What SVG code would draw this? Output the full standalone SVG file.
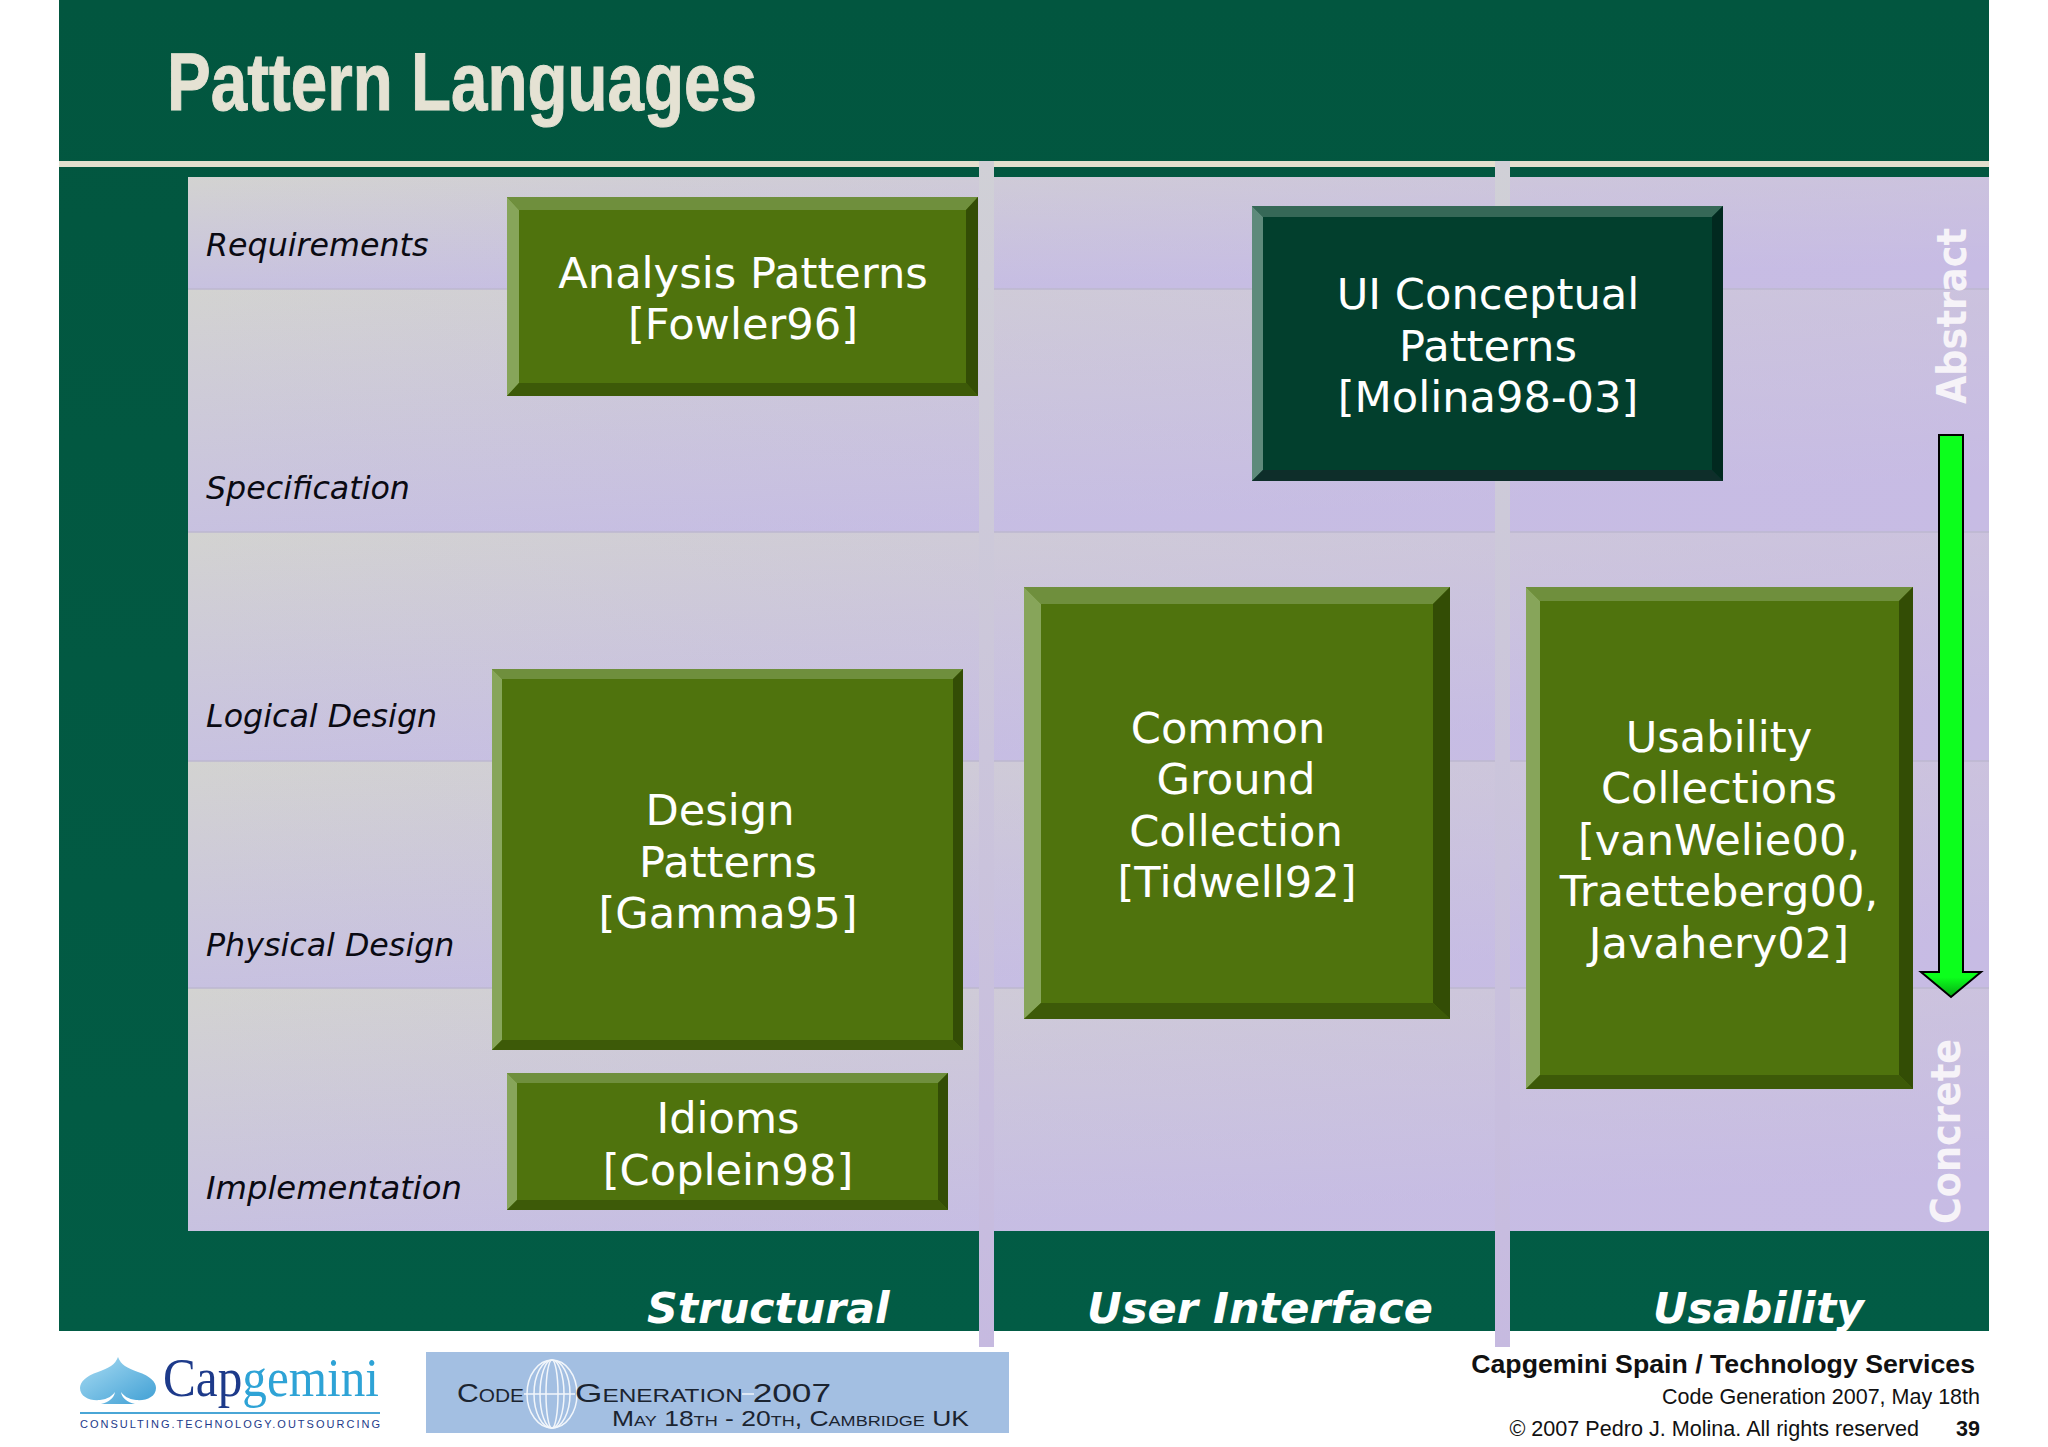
<svg xmlns="http://www.w3.org/2000/svg" width="2048" height="1447" viewBox="0 0 2048 1447">
<style>
.row{font-family:"DejaVu Sans",Verdana,sans-serif;font-style:italic;font-size:31.7px;fill:#0a0a12}
.nt{font-family:"DejaVu Sans",Verdana,sans-serif;font-size:43.2px;fill:#fff;text-anchor:middle}
.ax{font-family:"DejaVu Sans",Verdana,sans-serif;font-style:italic;font-weight:bold;font-size:42.6px;fill:#fff}
.vt{font-family:"DejaVu Sans",Verdana,sans-serif;font-weight:bold;font-size:40px;fill:#f6f3f8}
.ft{font-family:"Liberation Sans",Arial,sans-serif;fill:#111}
.cg{font-family:"Liberation Sans",Arial,sans-serif;font-variant:small-caps;fill:#1b2430}
.top{fill:#6f8f3d}.left{fill:#87a55a}.right{fill:#334d05}.bot{fill:#3d5a08}.face{fill:#4f730d}
</style>
<defs>
<linearGradient id="rowg" x1="0" y1="0" x2="0.35" y2="1"><stop offset="0" stop-color="#d3d3d1"/><stop offset="1" stop-color="#c6bfe2"/></linearGradient>
<linearGradient id="over" x1="0" y1="0" x2="1" y2="0"><stop offset="0" stop-color="#c8b8e6" stop-opacity="0"/><stop offset="1" stop-color="#c8b8e6" stop-opacity=".5"/></linearGradient>
<linearGradient id="bar" x1="0" y1="0" x2="0" y2="1"><stop offset="0" stop-color="#d0d0d6"/><stop offset="1" stop-color="#c6bae0"/></linearGradient>
<linearGradient id="arrowg" x1="0" y1="0" x2="0" y2="1"><stop offset="0" stop-color="#0cff1c"/><stop offset=".965" stop-color="#0cff1c"/><stop offset="1" stop-color="#06a814"/></linearGradient>
<linearGradient id="bg" x1="0" y1="0" x2="0" y2="1"><stop offset="0" stop-color="#02563f"/><stop offset="1" stop-color="#025c45"/></linearGradient>
<linearGradient id="spade" x1="0" y1="0" x2="1" y2="1"><stop offset="0" stop-color="#a9dcf3"/><stop offset="1" stop-color="#3f9fd4"/></linearGradient>
</defs>
<rect width="2048" height="1447" fill="#fff"/>
<rect x="59" y="0" width="1930" height="1331" fill="url(#bg)"/>
<text x="167" y="110" font-family="'Liberation Sans',Arial,sans-serif" font-weight="bold" font-size="82" fill="#e5e2d3" stroke="#e5e2d3" stroke-width="1" textLength="590" lengthAdjust="spacingAndGlyphs">Pattern Languages</text>
<rect x="59" y="161" width="1930" height="6" fill="#e2e0ce"/>
<g id="panel">
<rect x="188" y="177" width="1801" height="112" fill="url(#rowg)"/>
<rect x="188" y="289" width="1801" height="243" fill="url(#rowg)"/>
<rect x="188" y="532" width="1801" height="229" fill="url(#rowg)"/>
<rect x="188" y="761" width="1801" height="227" fill="url(#rowg)"/>
<rect x="188" y="988" width="1801" height="243" fill="url(#rowg)"/>
<rect x="188" y="177" width="1801" height="1054" fill="url(#over)"/>
<path d="M188 289H1989M188 532H1989M188 761H1989M188 988H1989" stroke="#bdb8d0" stroke-width="1.5" fill="none"/>
<rect x="979" y="161" width="15" height="1186" fill="url(#bar)"/>
<rect x="1495" y="161" width="15" height="1186" fill="url(#bar)"/>
</g>
<g id="row-labels">
<text class="row" x="206" y="256">Requirements</text>
<text class="row" x="206" y="499">Specification</text>
<text class="row" x="206" y="727">Logical Design</text>
<text class="row" x="206" y="956">Physical Design</text>
<text class="row" x="206" y="1199" textLength="256" lengthAdjust="spacingAndGlyphs">Implementation</text>
</g>
<g id="node-analysis">
<rect class="face" x="507" y="197" width="471" height="199"/>
<path class="top" d="M507 197H978L966 210H519Z"/><path class="left" d="M507 197L519 210V383L507 396Z"/><path class="right" d="M978 197L966 210V383L978 396Z"/><path class="bot" d="M507 396L519 383H966L978 396Z"/>
<text class="nt" x="743" y="288">Analysis Patterns</text><text class="nt" x="743" y="339">[Fowler96]</text>
</g>
<g id="node-ui">
<rect x="1252" y="206" width="471" height="275" fill="#023f2d"/>
<path fill="#366857" d="M1252 206H1723L1712 217H1263Z"/><path fill="#5e8a7b" d="M1252 206L1263 217V470L1252 481Z"/><path fill="#01291f" d="M1723 206L1712 217V470L1723 481Z"/><path fill="#0e2e2a" d="M1252 481L1263 470H1712L1723 481Z"/>
<text class="nt" x="1488" y="309">UI Conceptual</text><text class="nt" x="1488" y="361">Patterns</text><text class="nt" x="1488" y="412">[Molina98-03]</text>
</g>
<g id="node-design">
<rect class="face" x="492" y="669" width="471" height="381"/>
<path class="top" d="M492 669H963L953 679H502Z"/><path class="left" d="M492 669L502 679V1040L492 1050Z"/><path class="right" d="M963 669L953 679V1040L963 1050Z"/><path class="bot" d="M492 1050L502 1040H953L963 1050Z"/>
<text class="nt" x="720" y="825">Design</text><text class="nt" x="728" y="877">Patterns</text><text class="nt" x="728" y="928">[Gamma95]</text>
</g>
<g id="node-idioms">
<rect class="face" x="507" y="1073" width="441" height="137"/>
<path class="top" d="M507 1073H948L938 1083H517Z"/><path class="left" d="M507 1073L517 1083V1200L507 1210Z"/><path class="right" d="M948 1073L938 1083V1200L948 1210Z"/><path class="bot" d="M507 1210L517 1200H938L948 1210Z"/>
<text class="nt" x="728" y="1133">Idioms</text><text class="nt" x="728" y="1185">[Coplein98]</text>
</g>
<g id="node-common">
<rect class="face" x="1024" y="587" width="426" height="432"/>
<path class="top" d="M1024 587H1450L1433 604H1041Z"/><path class="left" d="M1024 587L1041 604V1003L1024 1019Z"/><path class="right" d="M1450 587L1433 604V1003L1450 1019Z"/><path class="bot" d="M1024 1019L1041 1003H1433L1450 1019Z"/>
<text class="nt" x="1228" y="743">Common</text><text class="nt" x="1236" y="794">Ground</text><text class="nt" x="1236" y="846">Collection</text><text class="nt" x="1237" y="897">[Tidwell92]</text>
</g>
<g id="node-usability">
<rect class="face" x="1526" y="587" width="387" height="502"/>
<path class="top" d="M1526 587H1913L1899 601H1540Z"/><path class="left" d="M1526 587L1540 601V1075L1526 1089Z"/><path class="right" d="M1913 587L1899 601V1075L1913 1089Z"/><path class="bot" d="M1526 1089L1540 1075H1899L1913 1089Z"/>
<text class="nt" x="1719" y="752">Usability</text><text class="nt" x="1719" y="803">Collections</text><text class="nt" x="1719" y="855">[vanWelie00,</text><text class="nt" x="1719" y="906">Traetteberg00,</text><text class="nt" x="1719" y="958">Javahery02]</text>
</g>
<g id="connectors">
<path d="M1939 435H1963V972H1981L1951 997L1921 972H1939Z" fill="url(#arrowg)" stroke="#000" stroke-width="2" stroke-linejoin="miter"/>
</g>
<g id="axis-labels">
<text class="vt" transform="translate(1966 404) rotate(-90)" textLength="176" lengthAdjust="spacingAndGlyphs">Abstract</text>
<text class="vt" transform="translate(1960 1224) rotate(-90)" textLength="185" lengthAdjust="spacingAndGlyphs">Concrete</text>
<text class="ax" x="647" y="1323">Structural</text>
<text class="ax" x="1087" y="1323" textLength="346" lengthAdjust="spacingAndGlyphs">User Interface</text>
<text class="ax" x="1653" y="1323">Usability</text>
</g>
<g id="logo-capgemini">
<path d="M118 1357C121 1365 127 1368 138 1372C150 1376 156 1382 156 1388C156 1397 146 1401 136 1400C128 1399 124 1396 121 1392C122 1398 127 1402 135 1404H101C109 1402 114 1398 115 1392C112 1396 108 1399 100 1400C90 1401 80 1397 80 1388C80 1382 86 1376 98 1372C109 1368 115 1365 118 1357Z" fill="url(#spade)"/>
<text x="163" y="1396" font-family="'Liberation Serif',serif" font-size="54" fill="#1d3a8a" textLength="216" lengthAdjust="spacingAndGlyphs">Cap<tspan fill="#2ea3d6">gemini</tspan></text>
<rect x="80" y="1412" width="300" height="2" fill="#4aa6d6"/>
<text x="80" y="1428" font-family="'Liberation Sans',Arial,sans-serif" font-size="11" fill="#1d3a8a" textLength="300" lengthAdjust="spacing">CONSULTING.TECHNOLOGY.OUTSOURCING</text>
</g>
<g id="logo-codegen">
<rect x="426" y="1352" width="583" height="81" fill="#a3bfe2"/>
<g fill="none" stroke="#f2f6fb" stroke-width="1.5">
<ellipse cx="552" cy="1394" rx="25" ry="34"/><ellipse cx="552" cy="1394" rx="18" ry="34"/><ellipse cx="552" cy="1394" rx="12" ry="34"/><ellipse cx="552" cy="1394" rx="6" ry="34"/>
<path d="M524 1394H575M742 1394H754"/>
</g>
<text class="cg" x="457" y="1402" font-size="26" textLength="67" lengthAdjust="spacingAndGlyphs">Code</text>
<text class="cg" x="575" y="1402" font-size="26" textLength="256" lengthAdjust="spacingAndGlyphs">Generation 2007</text>
<text class="cg" x="612" y="1426" font-size="22" textLength="357" lengthAdjust="spacingAndGlyphs" fill="#333f4e">May 18th - 20th, Cambridge UK</text>
</g>
<g id="footer">
<text class="ft" x="1975" y="1373" text-anchor="end" font-weight="bold" font-size="26.7">Capgemini Spain / Technology Services</text>
<text class="ft" x="1980" y="1404" text-anchor="end" font-size="21.5">Code Generation 2007, May 18th</text>
<text class="ft" x="1919" y="1436" text-anchor="end" font-size="21.6">© 2007 Pedro J. Molina. All rights reserved</text>
<text class="ft" x="1980" y="1436" text-anchor="end" font-weight="bold" font-size="21.5">39</text>
</g>
</svg>
